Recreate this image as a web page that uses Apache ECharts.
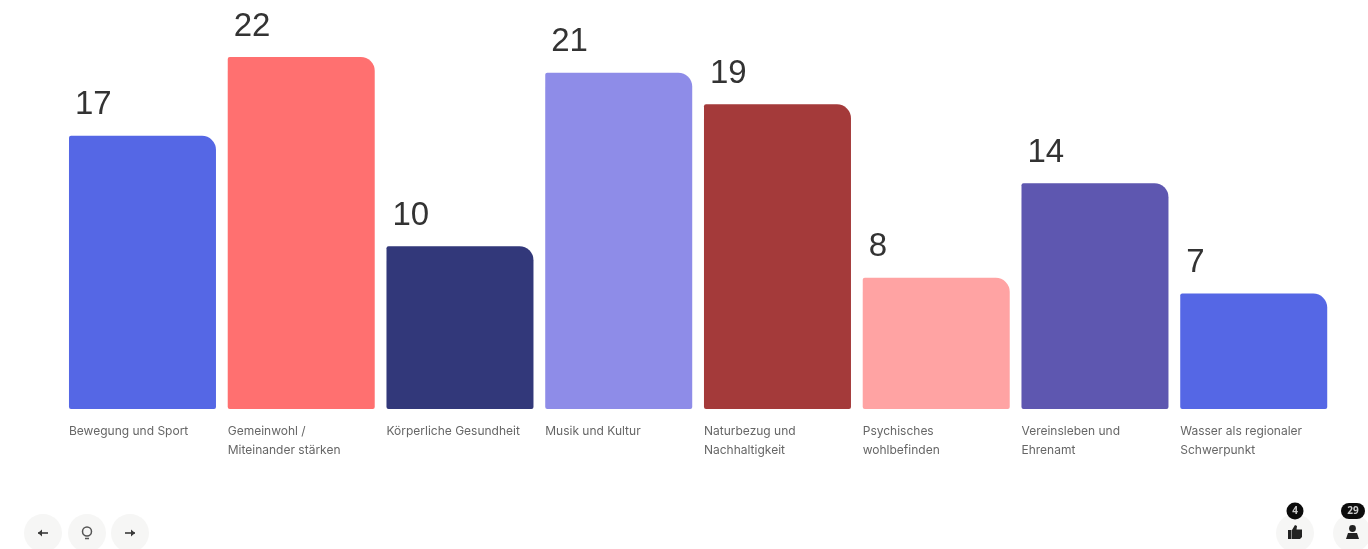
<!DOCTYPE html>
<html><head><meta charset="utf-8">
<style>html,body{margin:0;padding:0;background:#fff}#c{width:1368px;height:549px}</style>
<script src="https://cdn.jsdelivr.net/npm/echarts@6/dist/echarts.min.js"></script>
</head><body><div id="c"></div>
<script>
const categories = ['Bewegung und Sport','Gemeinwohl /\nMiteinander stärken','Körperliche Gesundheit','Musik und Kultur','Naturbezug und\nNachhaltigkeit','Psychisches\nwohlbefinden','Vereinsleben und\nEhrenamt','Wasser als regionaler\nSchwerpunkt'];
const values = [17,22,10,21,19,8,14,7];
const colors = ['#5567E5','#FF7070','#32387A','#8E8CE8','#A43A3A','#FFA3A3','#5E57B0','#5567E5'];
// bars in the source start a little below the zero line
const barFoot = [-0.32,-0.32,-0.32,-0.32,-0.32,-0.32,-0.32,-0.32];
const axisFloor = -0.32, axisCeil = 22;

const btn = (x,y)=>({type:'circle',shape:{cx:x,cy:y,r:19},style:{fill:'#F6F6F5'},silent:true});
const dark='#3a3a3a';
const arrow=(x,y,d)=>[
 {type:'line',shape:{x1:x-5,y1:y,x2:x+5,y2:y},style:{stroke:dark,lineWidth:1.6},silent:true},
 {type:'polygon',shape:{points:[[x+d*5,y],[x+d*1,y-3.5],[x+d*1,y+3.5]]},style:{fill:dark},silent:true}
];
const chrome=[
 btn(43,533),btn(87,533),btn(130,533),btn(1295,533),btn(1352,533),
 ...arrow(43,533,-1),...arrow(130,533,1),
 {type:'circle',shape:{cx:87,cy:531.5,r:4.5},style:{fill:'none',stroke:'#555',lineWidth:1.5},silent:true},
 {type:'line',shape:{x1:85,y1:538.5,x2:89,y2:538.5},style:{stroke:'#555',lineWidth:1.5},silent:true},
 {type:'rect',shape:{x:1288,y:530,width:3.5,height:9},style:{fill:'#222'},silent:true},
 {type:'polygon',shape:{points:[[1292,530],[1295,525],[1297,526],[1296.5,529.5],[1302,529.5],[1302,537],[1300,539],[1292,539]]},style:{fill:'#222'},silent:true},
 {type:'circle',shape:{cx:1352.5,cy:528.5,r:3.4},style:{fill:'#222'},silent:true},
 {type:'polygon',shape:{points:[[1348,533],[1357,533],[1359,539],[1346,539]]},style:{fill:'#222'},silent:true},
 {type:'circle',shape:{cx:1295,cy:511,r:8.5},style:{fill:'#0c0c0c'},silent:true},
 {type:'rect',shape:{x:1341,y:503,width:24,height:16,r:8},style:{fill:'#0c0c0c'},silent:true},
 {type:'text',style:{x:1295,y:511,text:'4',fill:'#ccc',font:'bold 10px "Open Sans"',align:'center',verticalAlign:'middle'},silent:true},
 {type:'text',style:{x:1353,y:511,text:'29',fill:'#ccc',font:'bold 10px "Open Sans"',align:'center',verticalAlign:'middle'},silent:true}
];

const chart = echarts.init(document.getElementById('c'),null,{renderer:'canvas'});
chart.setOption({
  animation:false,
  backgroundColor:'#fff',
  grid:{left:63.1,width:1270,top:57,bottom:140,containLabel:false},
  xAxis:{type:'category',data:categories,axisTick:{show:false},axisLine:{show:false,onZero:false},
    axisLabel:{interval:0,margin:13,hideOverlap:false,align:'center',verticalAlign:'top',
      formatter:v=>v.split('\n').map(s=>'{a|'+s+'}').join('\n'),
      rich:{a:{width:147,align:'left',lineHeight:19,fontFamily:'Inter',fontSize:12,color:'#666666'}}}},
  yAxis:{type:'value',min:axisFloor,max:axisCeil,show:false,splitLine:{show:false}},
  series:[
    {type:'bar',stack:'b',barWidth:147,data:values.map((v,i)=>({value:v,itemStyle:{color:colors[i]}})),
     itemStyle:{borderRadius:[2,14,0,0]},
     label:{show:true,position:[6,-14],align:'left',verticalAlign:'bottom',fontFamily:'Liberation Sans',fontSize:33,color:'#333'}},
    {type:'bar',stack:'b',barWidth:147,data:barFoot.map((v,i)=>({value:v,itemStyle:{color:colors[i]}})),
     itemStyle:{borderRadius:[0,0,2,2]},silent:true,label:{show:false}}
  ],
  graphic:{elements:chrome}
});
</script></body></html>
